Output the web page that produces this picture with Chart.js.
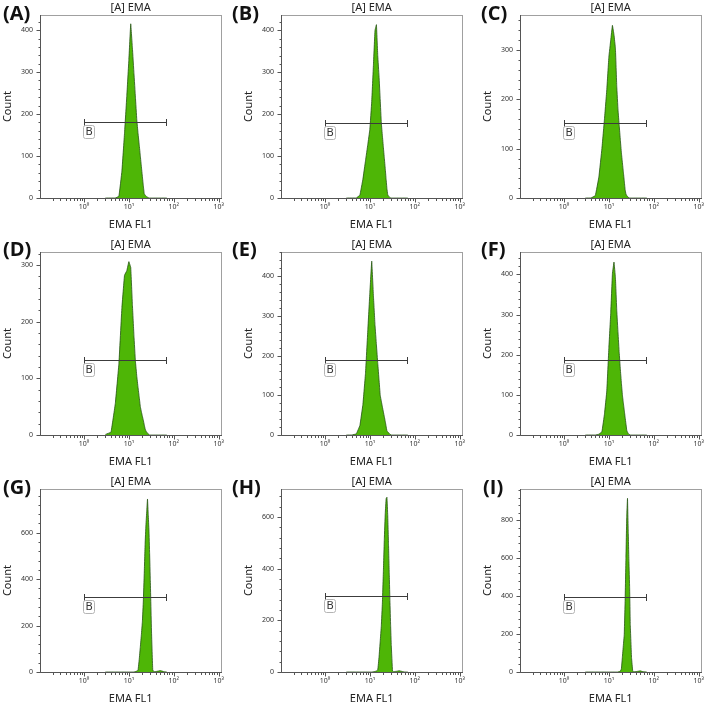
<!DOCTYPE html>
<html>
<head>
<meta charset="utf-8">
<script src="https://cdn.jsdelivr.net/npm/chart.js@4.4.1/dist/chart.umd.min.js"></script>
<style>
  html, body { margin: 0; padding: 0; background: #fff; overflow: hidden; }
  #wrap { position: relative; width: 709px; height: 704px; }
  .panel { position: absolute; }
  .tag { position: absolute; font: bold 20px "Open Sans", sans-serif; line-height: 20px; color: #111; }
</style>
</head>
<body>
<div id="wrap"></div>
<script>
// panel letters and shared histogram channels (EMA FL1)
const panelNames = ["A", "B", "C", "D", "E", "F", "G", "H", "I"];
const fl1Channels = [3, 4, 5, 6, 7, 8, 9, 10, 11, 12, 13, 14, 15, 16, 17, 18, 19, 20, 21, 22, 23, 24, 25, 26, 27, 28, 29, 30, 32, 34, 36, 40, 45, 50, 55, 60, 70];

// counts per panel, one value per channel
const countsA = [0, 0, 0, 4, 64, 154, 243, 329, 415, 357, 296, 240, 187, 154, 127, 100, 75, 51, 29, 10, 7, 5, 3, 2, 1, 0, 0, 0, 0, 0, 0, 0, 0, 0, 0, 0, 0];
const countsB = [0, 0, 0, 7, 45, 89, 128, 164, 230, 317, 400, 414, 339, 291, 234, 179, 149, 121, 95, 70, 45, 22, 8, 5, 3, 1, 0, 0, 0, 0, 0, 0, 0, 0, 0, 0, 0];
const countsC = [0, 0, 5, 43, 100, 161, 220, 286, 320, 350, 331, 303, 226, 178, 147, 118, 92, 72, 53, 35, 17, 8, 5, 3, 2, 0, 0, 0, 0, 0, 0, 0, 0, 0, 0, 0, 0];
const countsD = [1, 5, 56, 126, 225, 282, 290, 306, 296, 229, 174, 130, 104, 84, 67, 50, 41, 33, 26, 18, 11, 7, 5, 3, 2, 1, 0, 0, 0, 0, 0, 0, 0, 0, 0, 0, 0];
const countsE = [0, 0, 3, 24, 77, 156, 264, 359, 438, 351, 278, 227, 180, 139, 100, 85, 71, 58, 46, 34, 22, 10, 8, 6, 4, 2, 1, 0, 0, 0, 0, 0, 0, 0, 0, 0, 0];
const countsF = [0, 0, 0, 2, 8, 53, 110, 217, 303, 402, 431, 392, 310, 254, 205, 164, 130, 100, 80, 62, 44, 28, 12, 7, 4, 2, 1, 0, 0, 0, 0, 0, 0, 0, 0, 0, 0];
const countsG = [0, 0, 0, 0, 0, 0, 0, 0, 0, 0, 0, 2, 4, 8, 54, 108, 161, 217, 306, 424, 550, 633, 692, 745, 677, 612, 510, 398, 168, 10, 1, 2, 4, 6, 4, 1, 0];
const countsH = [0, 0, 0, 0, 0, 0, 0, 0, 0, 1, 2, 4, 8, 58, 119, 179, 267, 390, 516, 613, 670, 676, 606, 496, 384, 274, 180, 102, 4, 1, 2, 3, 5, 3, 1, 0, 0];
const countsI = [0, 0, 0, 0, 0, 0, 0, 0, 0, 0, 0, 0, 0, 0, 2, 5, 16, 79, 140, 197, 373, 600, 820, 917, 740, 582, 445, 246, 75, 4, 1, 2, 4, 6, 3, 1, 0];
const allCounts = [countsA, countsB, countsC, countsD, countsE, countsF, countsG, countsH, countsI];

// y axis ranges and tick steps
const yMaxes = [436, 437, 371, 323, 461, 456, 788, 708, 966];
const yMajorSteps = [100, 100, 100, 100, 100, 100, 200, 200, 200];

// gate "B": FL1 range and the count level it is drawn at
const gateRange = [1, 68];
const gateCounts = [180, 179, 153, 132, 189, 186, 323, 294, 398];

// x axis decades
const xTickValues = [1, 10, 100, 1000];
const xTickLabels = ["10⁰", "10¹", "10²", "10³"];

const colLeft = [0, 241, 480];
const rowTop = [0, 237, 474];
const tagLeft = [3, 232, 481];
const tagTop = [3, 239, 477];

const FONT = '"Noto Sans", sans-serif';
Chart.defaults.font.family = FONT;

// frame, ticks, title and the gate drawn on top of the histogram
const overlay = {
  id: "overlay",
  afterDatasetsDraw(chart, args, opts) {
    const { ctx, scales: { x, y } } = chart;
    const gx1 = Math.round(x.getPixelForValue(gateRange[0])) + 0.5;
    const gx2 = Math.round(x.getPixelForValue(gateRange[1])) + 0.5;
    const gy = Math.round(y.getPixelForValue(opts.gateCount)) + 0.5;
    ctx.save();
    ctx.strokeStyle = "#3c3c3c";
    ctx.lineWidth = 1;
    ctx.beginPath();
    ctx.moveTo(gx1, gy); ctx.lineTo(gx2, gy);
    ctx.moveTo(gx1, gy - 3.5); ctx.lineTo(gx1, gy + 3.5);
    ctx.moveTo(gx2, gy - 3.5); ctx.lineTo(gx2, gy + 3.5);
    ctx.stroke();
    ctx.beginPath();
    ctx.roundRect(gx1 - 1, gy + 3, 11, 13, 2);
    ctx.fillStyle = "#fff";
    ctx.fill();
    ctx.strokeStyle = "#b4b4b4";
    ctx.stroke();
    ctx.fillStyle = "#333";
    ctx.font = "11px " + FONT;
    ctx.textAlign = "center";
    ctx.textBaseline = "middle";
    ctx.fillText("B", gx1 + 4.5, gy + 9.5);
    ctx.restore();
  },
  afterDraw(chart, args, opts) {
    const { ctx, chartArea: a, scales: { x, y } } = chart;
    ctx.save();
    // light frame on top/right, darker axes on left/bottom
    ctx.lineWidth = 1;
    ctx.strokeStyle = "#a0a0a0";
    ctx.strokeRect(Math.round(a.left) + 0.5, Math.round(a.top) + 0.5, Math.round(a.right - a.left), Math.round(a.bottom - a.top));
    ctx.strokeStyle = "#555";
    const L = Math.round(a.left) + 0.5, B = Math.round(a.bottom) + 0.5;
    ctx.beginPath();
    ctx.moveTo(L, Math.round(a.top)); ctx.lineTo(L, B); ctx.lineTo(Math.round(a.right) + 1, B);
    // y ticks, minor every fifth of a major step
    const step = opts.yStep, minor = step / 5;
    for (let v = 0; v <= y.max; v += minor) {
      const py = Math.round(y.getPixelForValue(v)) + 0.5;
      const len = Math.abs(v / step - Math.round(v / step)) < 1e-6 ? 4 : 2;
      ctx.moveTo(L - len, py); ctx.lineTo(L, py);
    }
    // x ticks, log decades with minor 2..9
    for (let k = -1; k <= 3; k++) {
      for (let m = 1; m <= 9; m++) {
        const v = m * Math.pow(10, k);
        if (v < x.min || v > x.max) continue;
        const px = Math.round(x.getPixelForValue(v)) + 0.5;
        const len = m === 1 ? 4 : 2.5;
        ctx.moveTo(px, B); ctx.lineTo(px, B + len);
      }
    }
    ctx.stroke();
    // panel title
    ctx.fillStyle = "#222";
    ctx.font = "11px " + FONT;
    ctx.textAlign = "center";
    ctx.textBaseline = "middle";
    ctx.fillText("[A] EMA", (a.left + a.right) / 2, 7.8);
    ctx.restore();
  }
};

const wrap = document.getElementById("wrap");

panelNames.forEach((name, i) => {
  const col = i % 3, row = Math.floor(i / 3);
  const canvas = document.createElement("canvas");
  canvas.className = "panel";
  canvas.width = 229;
  canvas.height = 232;
  canvas.style.left = colLeft[col] + "px";
  canvas.style.top = rowTop[row] + "px";
  wrap.appendChild(canvas);

  const tag = document.createElement("div");
  tag.className = "tag";
  tag.textContent = "(" + name + ")";
  tag.style.left = (name === "I" ? 483 : tagLeft[col]) + "px";
  tag.style.top = tagTop[row] + "px";
  wrap.appendChild(tag);

  const counts = allCounts[i];
  new Chart(canvas.getContext("2d"), {
    type: "line",
    data: {
      datasets: [{
        data: fl1Channels.map((c, j) => ({ x: c, y: counts[j] })),
        fill: "origin",
        backgroundColor: "rgb(78,182,6)",
        borderColor: "rgb(38,84,20)",
        borderWidth: 0.8,
        pointRadius: 0,
        // small tension keeps Chart.js off its pixel-merging fast path
        tension: 0.05
      }]
    },
    options: {
      responsive: false,
      animation: false,
      devicePixelRatio: 1,
      layout: { padding: { top: 15, right: 6, left: 0, bottom: 0 } },
      plugins: {
        legend: { display: false },
        tooltip: { enabled: false },
        overlay: { gateCount: gateCounts[i], yStep: yMajorSteps[i] }
      },
      scales: {
        x: {
          type: "logarithmic",
          min: 0.105,
          max: 1150,
          afterBuildTicks: (s) => { s.ticks = xTickValues.map((v) => ({ value: v })); },
          afterFit: (s) => { s.height = 34; },
          grid: { display: false, drawTicks: false },
          border: { display: false },
          ticks: {
            autoSkip: false,
            maxRotation: 0,
            padding: 5,
            color: "#333",
            font: { size: 7 },
            callback: (v, idx) => xTickLabels[idx]
          },
          title: {
            display: true,
            text: "EMA FL1",
            color: "#222",
            font: { size: 11 },
            padding: { top: 0, bottom: 1 }
          }
        },
        y: {
          type: "linear",
          min: 0,
          max: yMaxes[i],
          afterBuildTicks: (s) => {
            const t = [];
            for (let v = 0; v <= yMaxes[i]; v += yMajorSteps[i]) t.push({ value: v });
            s.ticks = t;
          },
          afterFit: (s) => { s.width = 40; },
          grid: { display: false, drawTicks: false },
          border: { display: false },
          ticks: { padding: 7, color: "#333", font: { size: 7 } },
          title: {
            display: true,
            text: "Count",
            color: "#222",
            font: { size: 11 },
            padding: { top: 1.5, bottom: 0 }
          }
        }
      }
    },
    plugins: [overlay]
  });
});
</script>
</body>
</html>
